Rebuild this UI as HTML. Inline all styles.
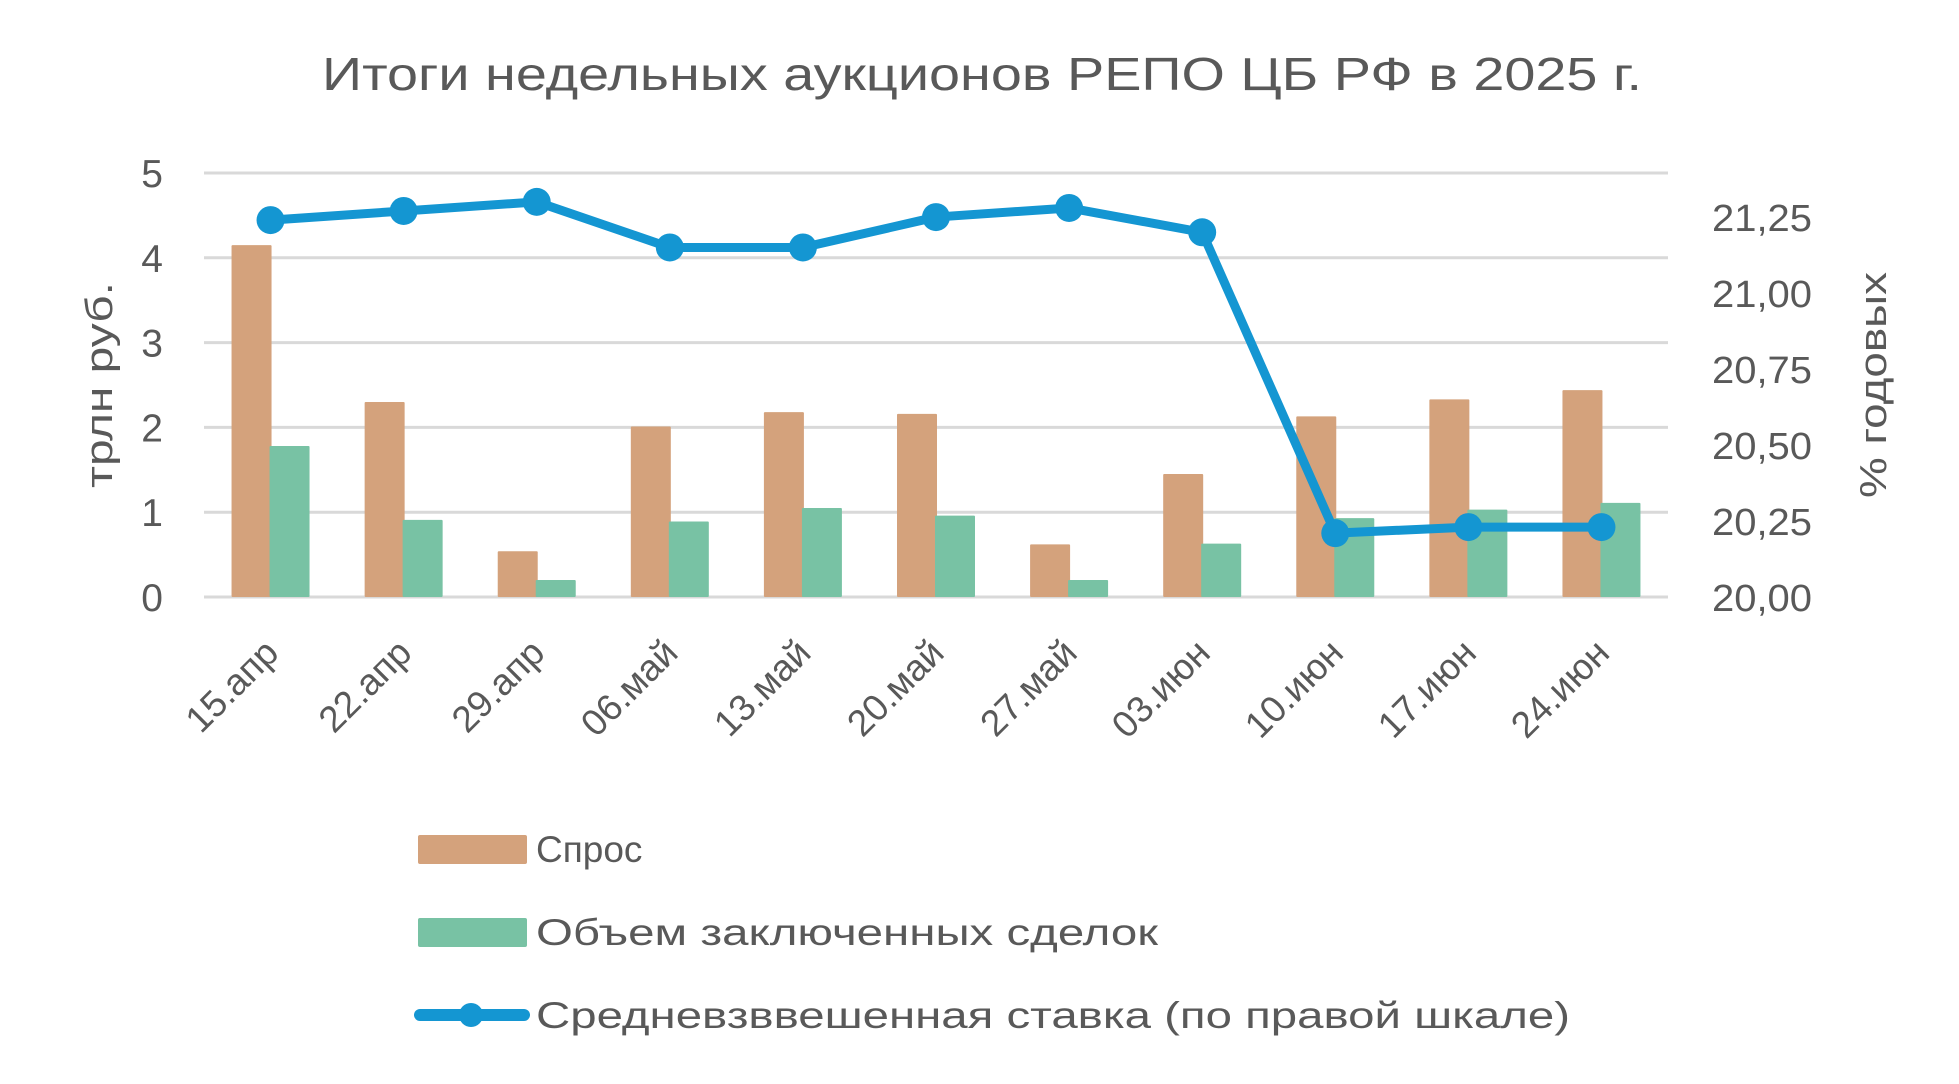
<!DOCTYPE html>
<html><head><meta charset="utf-8"><style>
html,body{margin:0;padding:0;background:#fff;}
svg text{font-family:"Liberation Sans","DejaVu Sans",sans-serif;fill:#595959;}
</style></head><body>
<svg id="chart" width="1959" height="1079" viewBox="0 0 1959 1079" xmlns="http://www.w3.org/2000/svg">
<text x="982" y="90" font-size="46" text-anchor="middle" textLength="1320" lengthAdjust="spacingAndGlyphs">Итоги недельных аукционов РЕПО ЦБ РФ в 2025 г.</text>
<g id="grid"></g><g id="bars"></g><g id="line"></g><g id="axes"></g>
<text transform="translate(112,385) rotate(-90)" font-size="38" text-anchor="middle" textLength="206" lengthAdjust="spacingAndGlyphs">трлн руб.</text>
<text transform="translate(1886,385) rotate(-90)" font-size="38" text-anchor="middle" textLength="226" lengthAdjust="spacingAndGlyphs">% годовых</text>
<g>
<rect x="418" y="835" width="109" height="29" rx="2" fill="#D4A27C"/>
<text x="536" y="862" font-size="37">Спрос</text>
<rect x="418" y="918" width="109" height="29" rx="2" fill="#78C2A4"/>
<text x="536" y="945" font-size="37" textLength="622" lengthAdjust="spacingAndGlyphs">Объем заключенных сделок</text>
<line x1="420" y1="1015" x2="524" y2="1015" stroke="#1496D2" stroke-width="12" stroke-linecap="round"/>
<circle cx="471" cy="1015" r="12" fill="#1496D2"/>
<text x="536" y="1028" font-size="37" textLength="1034" lengthAdjust="spacingAndGlyphs">Средневзввешенная ставка (по правой шкале)</text>
</g>
</svg>
<script>
const categories=["15.апр","22.апр","29.апр","06.май","13.май","20.май","27.май","03.июн","10.июн","17.июн","24.июн"];
const demand=[4.15,2.30,0.54,2.01,2.18,2.16,0.62,1.45,2.13,2.33,2.44];
const volume=[1.78,0.91,0.20,0.89,1.05,0.96,0.20,0.63,0.93,1.03,1.11];
const rate=[21.24,21.27,21.30,21.15,21.15,21.25,21.28,21.20,20.21,20.23,20.23];
const leftTicks=[0,1,2,3,4,5];
const rightTicks=["20,00","20,25","20,50","20,75","21,00","21,25"];
const rightTickValues=[20,20.25,20.5,20.75,21,21.25];

const NS="http://www.w3.org/2000/svg";
const X0=204,X1=1668,Y0=597,Y5=173;
const step=(X1-X0)/categories.length;
const xC=i=>X0+step*(i+0.5);
const yL=v=>Y0-(Y0-Y5)*v/5;
const yR=v=>Y0-(v-20)*(Y0-Y5)/1.395;
function mk(tag,attrs,parent){const e=document.createElementNS(NS,tag);for(const k in attrs)e.setAttribute(k,attrs[k]);parent.appendChild(e);return e;}
const grid=document.getElementById('grid'),bars=document.getElementById('bars'),line=document.getElementById('line'),axes=document.getElementById('axes');
leftTicks.forEach(t=>{
  const g=mk('line',{x1:X0,x2:X1,y1:yL(t),y2:yL(t),stroke:'#D9D9D9','stroke-width':3},grid);
  
  
  const tx=mk('text',{x:163,y:yL(t)+14,'font-size':39,'text-anchor':'end'},axes);
  tx.textContent=t;
  
  
});
rightTickValues.forEach((v,i)=>{
  const tx=mk('text',{x:1712,y:yR(v)+14,'font-size':38,textLength:100,lengthAdjust:'spacingAndGlyphs'},axes);
  tx.textContent=rightTicks[i];
  
  
});
const bw=40;
categories.forEach((c,i)=>{
  const cx=xC(i);
  const b1=mk('rect',{x:cx-39,y:yL(demand[i]),width:bw,height:Y0-yL(demand[i]),fill:'#D4A27C',rx:1},bars);
  
  
  const b2=mk('rect',{x:cx-1,y:yL(volume[i]),width:bw,height:Y0-yL(volume[i]),fill:'#78C2A4',rx:1},bars);
  
  
  const tx=mk('text',{transform:`translate(${cx+10},655) rotate(-45)`,'font-size':37,'text-anchor':'end'},axes);
  tx.textContent=c;
  
  
});
const pts=rate.map((v,i)=>xC(i)+','+yR(v)).join(' ');
const pl=mk('polyline',{points:pts,fill:'none',stroke:'#1496D2','stroke-width':9,'stroke-linejoin':'round'},line);


rate.forEach((v,i)=>{
  const p=mk('circle',{cx:xC(i),cy:yR(v),r:14,fill:'#1496D2'},line);
  
  
});
</script>
</body></html>
